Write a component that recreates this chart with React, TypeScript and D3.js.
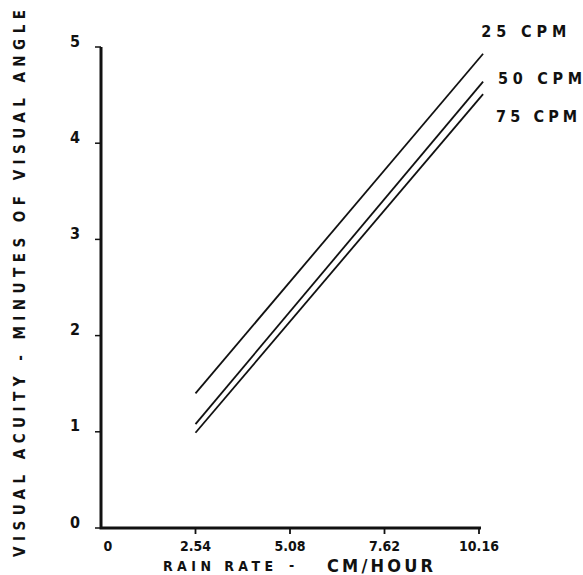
import React from 'react';
import * as d3 from 'd3';

// rain rate (cm/hour) at the two ends of each line
const rainRate = [2.54, 10.27];
const cpm25 = [1.40, 4.93];
const cpm50 = [1.08, 4.64];
const cpm75 = [0.99, 4.51];
const seriesNames = ['25  CPM', '50  CPM', '75  CPM'];

const xTicks = [0, 2.54, 5.08, 7.62, 10.16];
const xTickLabels = ['0', '2.54', '5.08', '7.62', '10.16'];
const yTicks = [0, 1, 2, 3, 4, 5];

const width = 583;
const height = 575;
const font = '"Liberation Sans Narrow", "DejaVu Sans Condensed", sans-serif';

export default function App() {
  const x = d3.scaleLinear().domain([0, 10.16]).range([101, 479]);
  const y = d3.scaleLinear().domain([0, 5]).range([528, 47]);

  const line = d3.line<number>()
    .x((_, i) => x(rainRate[i]))
    .y(d => y(d));

  const series = [cpm25, cpm50, cpm75];
  // label anchors, in data units
  const labelPos = [
    { x: 10.22, y: 5.1, len: 85 },
    { x: 10.67, y: 4.62, len: 84 },
    { x: 10.62, y: 4.22, len: 81 },
  ];

  return (
    <svg width={width} height={height}
      style={{ position: 'absolute', left: 0, top: 0, background: '#fff' }}
      fontFamily={font} fontWeight="bold" fill="#111">
      {/* axes */}
      <path d={`M${x(0)},${y(5)}V${y(0)}H${x(10.16) + 2}`} fill="none" stroke="#111" strokeWidth={3} />
      {yTicks.map(t => (
        <g key={t}>
          <line x1={x(0) - 6} x2={x(0)} y1={y(t)} y2={y(t)} stroke="#111" strokeWidth={1.5} />
          <text x={75} y={y(t) - 5} textAnchor="middle" dominantBaseline="middle" fontSize={16}>{t}</text>
        </g>
      ))}
      {xTicks.map((t, i) => (
        <g key={t}>
          {t > 0 && <line x1={x(t)} x2={x(t)} y1={y(0)} y2={y(0) + 6} stroke="#111" strokeWidth={1.8} />}
          <text x={x(t) + (t === 0 ? 7 : 0)} y={551} textAnchor="middle" fontSize={14}>{xTickLabels[i]}</text>
        </g>
      ))}

      {/* lines */}
      {series.map((s, i) => (
        <path key={i} d={line(s) ?? ''} fill="none" stroke="#111" strokeWidth={1.8} />
      ))}
      {seriesNames.map((n, i) => (
        <text key={n} x={x(labelPos[i].x)} y={y(labelPos[i].y)} fontSize={16}
          textLength={labelPos[i].len} lengthAdjust="spacing">{n}</text>
      ))}

      {/* axis titles */}
      <text transform="translate(25,283.5) rotate(-90)" textAnchor="middle" fontSize={15}
        textLength={547} lengthAdjust="spacing">VISUAL ACUITY  -  MINUTES OF VISUAL ANGLE</text>
      <text x={163} y={571} fontSize={14} textLength={110} lengthAdjust="spacing">RAIN RATE</text>
      <text x={289} y={570} fontSize={14}>-</text>
      <text x={327} y={572} fontSize={18} textLength={106} lengthAdjust="spacing">CM/HOUR</text>
    </svg>
  );
}
